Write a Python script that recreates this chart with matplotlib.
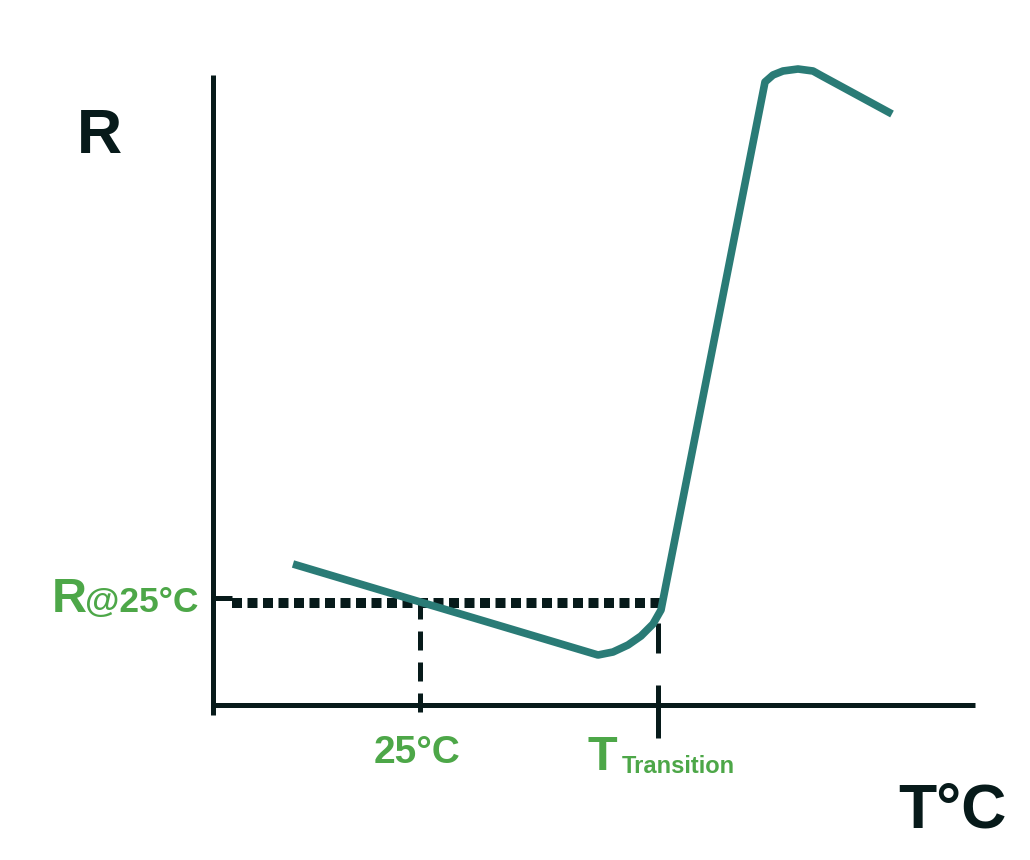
import matplotlib
matplotlib.use("Agg")
import matplotlib.pyplot as plt

# -------------------------------------------------------------------
# 1. DATA (T and R in arbitrary units, origin at the axes corner)
# -------------------------------------------------------------------
curve_t = [80, 385, 400, 415, 428, 440, 448, 552, 560, 570, 585, 600, 609, 679]
curve_r = [141, 50, 53, 60, 69, 81, 95, 623, 630, 634, 636, 634, 629, 591]

t_axis_end = 762
r_axis_end = 630
t_25 = 207          # 25 degC
r_25 = 102          # R @ 25 degC
t_transition = 445
r_transition = 82

teal = '#2a7b76'
dark = '#071a1a'
green = '#4da748'

plt.rcParams['font.family'] = ['Liberation Sans', 'DejaVu Sans']

fig = plt.figure(figsize=(10.3, 8.6), dpi=100)
ax = fig.add_axes([0, 0, 1, 1])
ax.set_xlim(-213, 817)
ax.set_ylim(-155, 705)
ax.axis('off')

# -------------------------------------------------------------------
# 2. AXES LINES
# -------------------------------------------------------------------
ax.plot([0, 0], [-10, r_axis_end], color=dark, lw=3.6, solid_capstyle='butt')
ax.plot([0, t_axis_end], [0, 0], color=dark, lw=3.6, solid_capstyle='butt')

# -------------------------------------------------------------------
# 3. GUIDE LINES
# -------------------------------------------------------------------
ax.plot([0, 19], [r_25 + 5, r_25 + 5], color=dark, lw=3.6, solid_capstyle='butt')
ax.plot([19, t_transition + 7], [r_25, r_25], color=dark, lw=7.2,
        linestyle=(0, (1.0, 0.55)), dash_capstyle='butt')
ax.plot([t_25, t_25], [r_25 + 3, -12], color=dark, lw=3.6,
        linestyle=(0, (3.8, 2.4)), dash_capstyle='butt')
ax.plot([t_transition, t_transition], [r_transition, -33], color=dark, lw=3.6,
        linestyle=(0, (6.0, 6.4, 11.0, 2.0)), dash_capstyle='butt')

# -------------------------------------------------------------------
# 4. CURVE
# -------------------------------------------------------------------
ax.plot(curve_t, curve_r, color=teal, lw=5.5, solid_joinstyle='round',
        solid_capstyle='butt', zorder=3)

# -------------------------------------------------------------------
# 5. LABELS
# -------------------------------------------------------------------
ax.text(-136, 552, 'R', fontsize=45, fontweight='bold', color=dark, va='baseline')
ax.text(685, -123, 'T°C', fontsize=45, fontweight='bold', color=dark, va='baseline')

ax.text(-161, 93, 'R', fontsize=35, fontweight='bold', color=green, va='baseline')
ax.text(-128, 93, '@25°C', fontsize=25.5, fontweight='bold', color=green, va='baseline')

ax.text(204, -58, '25°C', fontsize=28, fontweight='bold', color=green,
        ha='center', va='baseline')
ax.text(375, -65, 'T', fontsize=35, fontweight='bold', color=green, va='baseline')
ax.text(409, -68, 'Transition', fontsize=17, fontweight='bold', color=green,
        va='baseline')

fig.savefig('out.png', dpi=100)
